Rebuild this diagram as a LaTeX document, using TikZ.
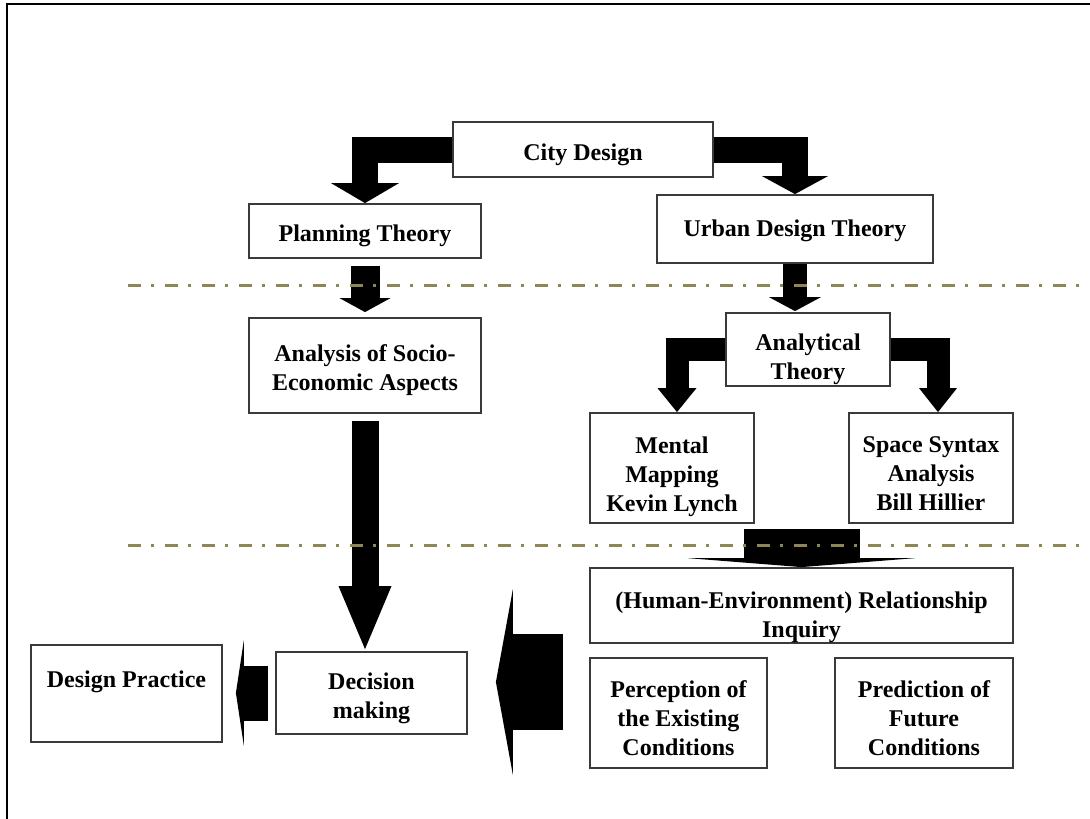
\documentclass[tikz,border=0pt]{standalone}
\usepackage{fontspec}
\setmainfont{Liberation Serif}
\usetikzlibrary{arrows.meta,calc}
\definecolor{cdline} {HTML}{3A3A3A}
\definecolor{cdolive}{HTML}{8C8755}
\newcommand{\cdstrut}[1][27]{\rule{0pt}{#1pt}}
\tikzset{
  cdbox/.style={draw=cdline, line width=1.8pt, fill=white, align=center, inner sep=0pt,
                font=\fontsize{24}{29}\selectfont\bfseries},
  cdarrow/.style={draw=black, line width=#1},
  cdsep/.style={draw=cdolive, line width=3pt,
                dash pattern=on 13pt off 10pt on 3pt off 11pt},
  cdframe/.style={draw=black, line width=2.5pt},
}
\begin{document}
\begin{tikzpicture}[x=1pt,y=-1pt]
  \useasboundingbox (0,0) rectangle (1090,819);
  \draw[cdframe] (1090,4) -- (7,4) -- (7,819);
  % upper part
  \node[cdbox, minimum width=260pt, minimum height=55pt] (cit) at (583,149.5) {\cdstrut City Design};
  \node[cdbox, minimum width=232pt, minimum height=54pt] (pla) at (365,231) {\cdstrut Planning Theory};
  \node[cdbox, minimum width=276pt, minimum height=68pt] (urb) at (795,229)
    {\cdstrut[20]Urban Design Theory};
  \node[cdbox, minimum width=232pt, minimum height=95pt] (soc) at (365,365.5)
    {\cdstrut Analysis of Socio-\\Economic Aspects};
  \node[cdbox, minimum width=164pt, minimum height=73pt] (ana) at (808,349.5)
    {\cdstrut[37]Analytical\\Theory};
  \node[cdbox, minimum width=164pt, minimum height=110pt] (men) at (672,468)
    {\cdstrut[35]Mental\\Mapping\\Kevin Lynch};
  \node[cdbox, minimum width=164pt, minimum height=110pt] (spa) at (931,468)
    {\cdstrut Space Syntax\\Analysis\\Bill Hillier};
  % lower part
  \node[cdbox, minimum width=423pt, minimum height=75pt] (hum) at (801.5,605.5)
    {\cdstrut[40](Human-Environment) Relationship\\Inquiry};
  \node[cdbox, minimum width=177pt, minimum height=110pt] (per) at (678.5,713)
    {\cdstrut Perception of\\the Existing\\Conditions};
  \node[cdbox, minimum width=178pt, minimum height=110pt] (pre) at (924,713)
    {\cdstrut Prediction of\\Future\\Conditions};
  \node[cdbox, minimum width=191pt, minimum height=82pt] (dec) at (371.5,693)
    {\cdstrut Decision\\making};
  \node[cdbox, minimum width=191pt, minimum height=97pt] (dpr) at (126.5,693.5)
    {\cdstrut Design Practice\\[10pt]~};

  \draw[cdarrow=26pt, -{Triangle[length=20pt,width=68pt,line width=0pt]}] (cit.west) -| (pla.north);
  \draw[cdarrow=26pt, -{Triangle[length=18pt,width=66pt,line width=0pt]}] (cit.east) -| (urb.north);
  \draw[cdarrow=29pt, shorten <=7pt, shorten >=5pt,
        -{Triangle[length=14pt,width=51pt,line width=0pt]}] (pla.south) -- (soc.north);
  \draw[cdarrow=24pt, shorten >=1pt,
        -{Triangle[length=14pt,width=52pt,line width=0pt]}] (urb.south) -- (urb.south |- ana.north);
  \draw[cdarrow=23pt, -{Triangle[length=24pt,width=39pt,line width=0pt]}]
    (ana.west) -| ([xshift=5pt]men.north);
  \draw[cdarrow=23pt, -{Triangle[length=24pt,width=38pt,line width=0pt]}]
    (ana.east) -| ([xshift=7pt]spa.north);
  \draw[cdarrow=27pt, shorten <=7pt, shorten >=2pt,
        -{Triangle[length=63pt,width=53pt,line width=0pt]}] (soc.south) -- (soc.south |- dec.north);
  \coordinate (mid) at ($(men.south)!0.5!(spa.south)$);
  \draw[cdarrow=116pt, shorten <=5pt,
        -{Triangle[length=9pt,width=228pt,line width=0pt]}] (mid) -- (mid |- hum.north);
  \coordinate (inq) at (563,682);
  \draw[cdarrow=96pt, shorten >=28pt,
        -{Triangle[length=17pt,width=186pt,line width=0pt]}] (inq) -- (inq -| dec.east);
  \draw[cdarrow=55pt, shorten <=7pt, shorten >=13pt,
        -{Triangle[length=8pt,width=106pt,line width=0pt]}] (dec.west) -- (dec.west -| dpr.east);

  \draw[cdsep] (128,285) -- (1080,285);
  \draw[cdsep] (128,545) -- (1080,545);
\end{tikzpicture}
\end{document}
